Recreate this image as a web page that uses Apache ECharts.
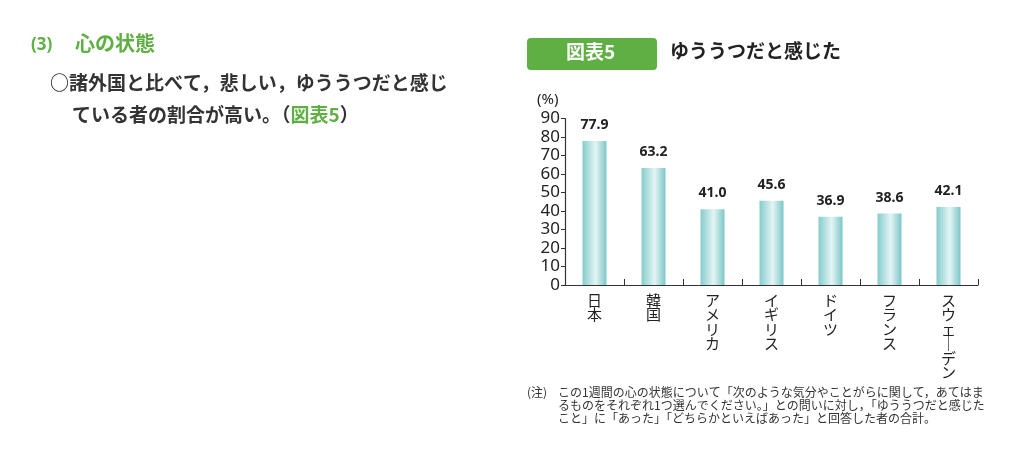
<!DOCTYPE html>
<html>
<head>
<meta charset="utf-8">
<script src="https://cdn.jsdelivr.net/npm/echarts@6/dist/echarts.min.js"></script>
<style>
  html, body { margin: 0; padding: 0; background: #fff; }
  #main { width: 1019px; height: 454px; }
</style>
</head>
<body>
<div id="main"></div>
<script>
// 国名（縦書き表示）
const countries = ['日本', '韓国', 'アメリカ', 'イギリス', 'ドイツ', 'フランス', 'スウェーデン'];
// ゆううつだと感じた割合（%）
const values = [77.9, 63.2, 41.0, 45.6, 36.9, 38.6, 42.1];
const yTicks = [0, 10, 20, 30, 40, 50, 60, 70, 80, 90];

const green = '#5db041';
const jp = '"Noto Sans CJK JP", "Noto Sans", sans-serif';

// 縦書き用：1文字ずつ改行（長音は縦棒に）
const vertical = (s) => s.split('').map(c => (c === 'ー' ? '｜' : c)).join('\n');

const myChart = echarts.init(document.getElementById('main'));

const option = {
  animation: false,
  grid: {
    left: 565,
    right: 41,
    top: 118.5,
    bottom: 169,
    containLabel: false
  },
  xAxis: {
    type: 'category',
    data: countries,
    axisLine: { lineStyle: { color: '#333', width: 1.2 } },
    axisTick: { show: true, inside: true, length: 6, lineStyle: { color: '#333' } },
    axisLabel: {
      interval: 0,
      margin: 8,
      color: '#222',
      fontFamily: jp,
      fontSize: 15,
      lineHeight: 14.5,
      verticalAlign: 'top',
      formatter: (v) => vertical(v)
    }
  },
  yAxis: {
    type: 'value',
    min: 0,
    max: 90,
    interval: 10,
    axisLine: { show: true, lineStyle: { color: '#333', width: 1.2 } },
    axisTick: { show: true, length: 4, lineStyle: { color: '#333' } },
    splitLine: { show: false },
    axisLabel: {
      margin: 5,
      color: '#222',
      fontFamily: '"Noto Sans", sans-serif',
      fontSize: 17,
      formatter: (v) => (yTicks.indexOf(v) >= 0 ? String(v) : '')
    }
  },
  series: [
    {
      type: 'bar',
      data: values,
      barWidth: 24,
      itemStyle: {
        color: new echarts.graphic.LinearGradient(0, 0, 1, 0, [
          { offset: 0, color: '#86cccc' },
          { offset: 0.55, color: '#e4f4f4' },
          { offset: 1, color: '#7cc6c6' }
        ])
      },
      label: {
        show: true,
        position: 'top',
        distance: 9,
        color: '#222',
        fontWeight: 'bold',
        fontSize: 14,
        fontFamily: '"Noto Sans", sans-serif',
        formatter: (p) => p.value.toFixed(1)
      }
    }
  ],
  graphic: [
    // 左側の見出し
    { type: 'text', left: 31, top: 37, style: { text: '(3)', fill: green, font: 'bold 17px "Noto Sans", sans-serif' } },
    { type: 'text', left: 75, top: 33, style: { text: '心の状態', fill: green, font: 'bold 20px ' + jp } },
    { type: 'text', left: 50, top: 73, style: { text: '○諸外国と比べて，悲しい，ゆううつだと感じ', fill: '#333', font: 'bold 19px ' + jp } },
    {
      type: 'text', left: 72, top: 105,
      style: {
        text: '{a|ている者の割合が高い。（}{g|図表5}{a|）}',
        rich: {
          a: { fill: '#333', font: 'bold 19px ' + jp },
          g: { fill: green, font: 'bold 19px ' + jp }
        }
      }
    },
    // 図表タイトル
    { type: 'rect', left: 527, top: 38, shape: { width: 130, height: 32, r: 4 }, style: { fill: green } },
    { type: 'text', left: 566, top: 42, style: { text: '図表5', fill: '#fff', font: 'bold 19px ' + jp } },
    { type: 'text', left: 670, top: 41, style: { text: 'ゆううつだと感じた', fill: '#222', font: 'bold 19px ' + jp } },
    { type: 'text', left: 537, top: 92, style: { text: '(%)', fill: '#222', font: '15px "Noto Sans", sans-serif' } },
    // 注記
    { type: 'text', left: 527, top: 386, style: { text: '(注)', fill: '#333', font: '12px ' + jp } },
    {
      type: 'text', left: 558, top: 386,
      style: {
        text: 'この1週間の心の状態について「次のような気分やことがらに関して，あてはま\nるものをそれぞれ1つ選んでください。」との問いに対し，「ゆううつだと感じた\nこと」に「あった」「どちらかといえばあった」と回答した者の合計。',
        fill: '#333',
        font: '12px ' + jp,
        lineHeight: 13
      }
    }
  ]
};

myChart.setOption(option);
</script>
</body>
</html>
